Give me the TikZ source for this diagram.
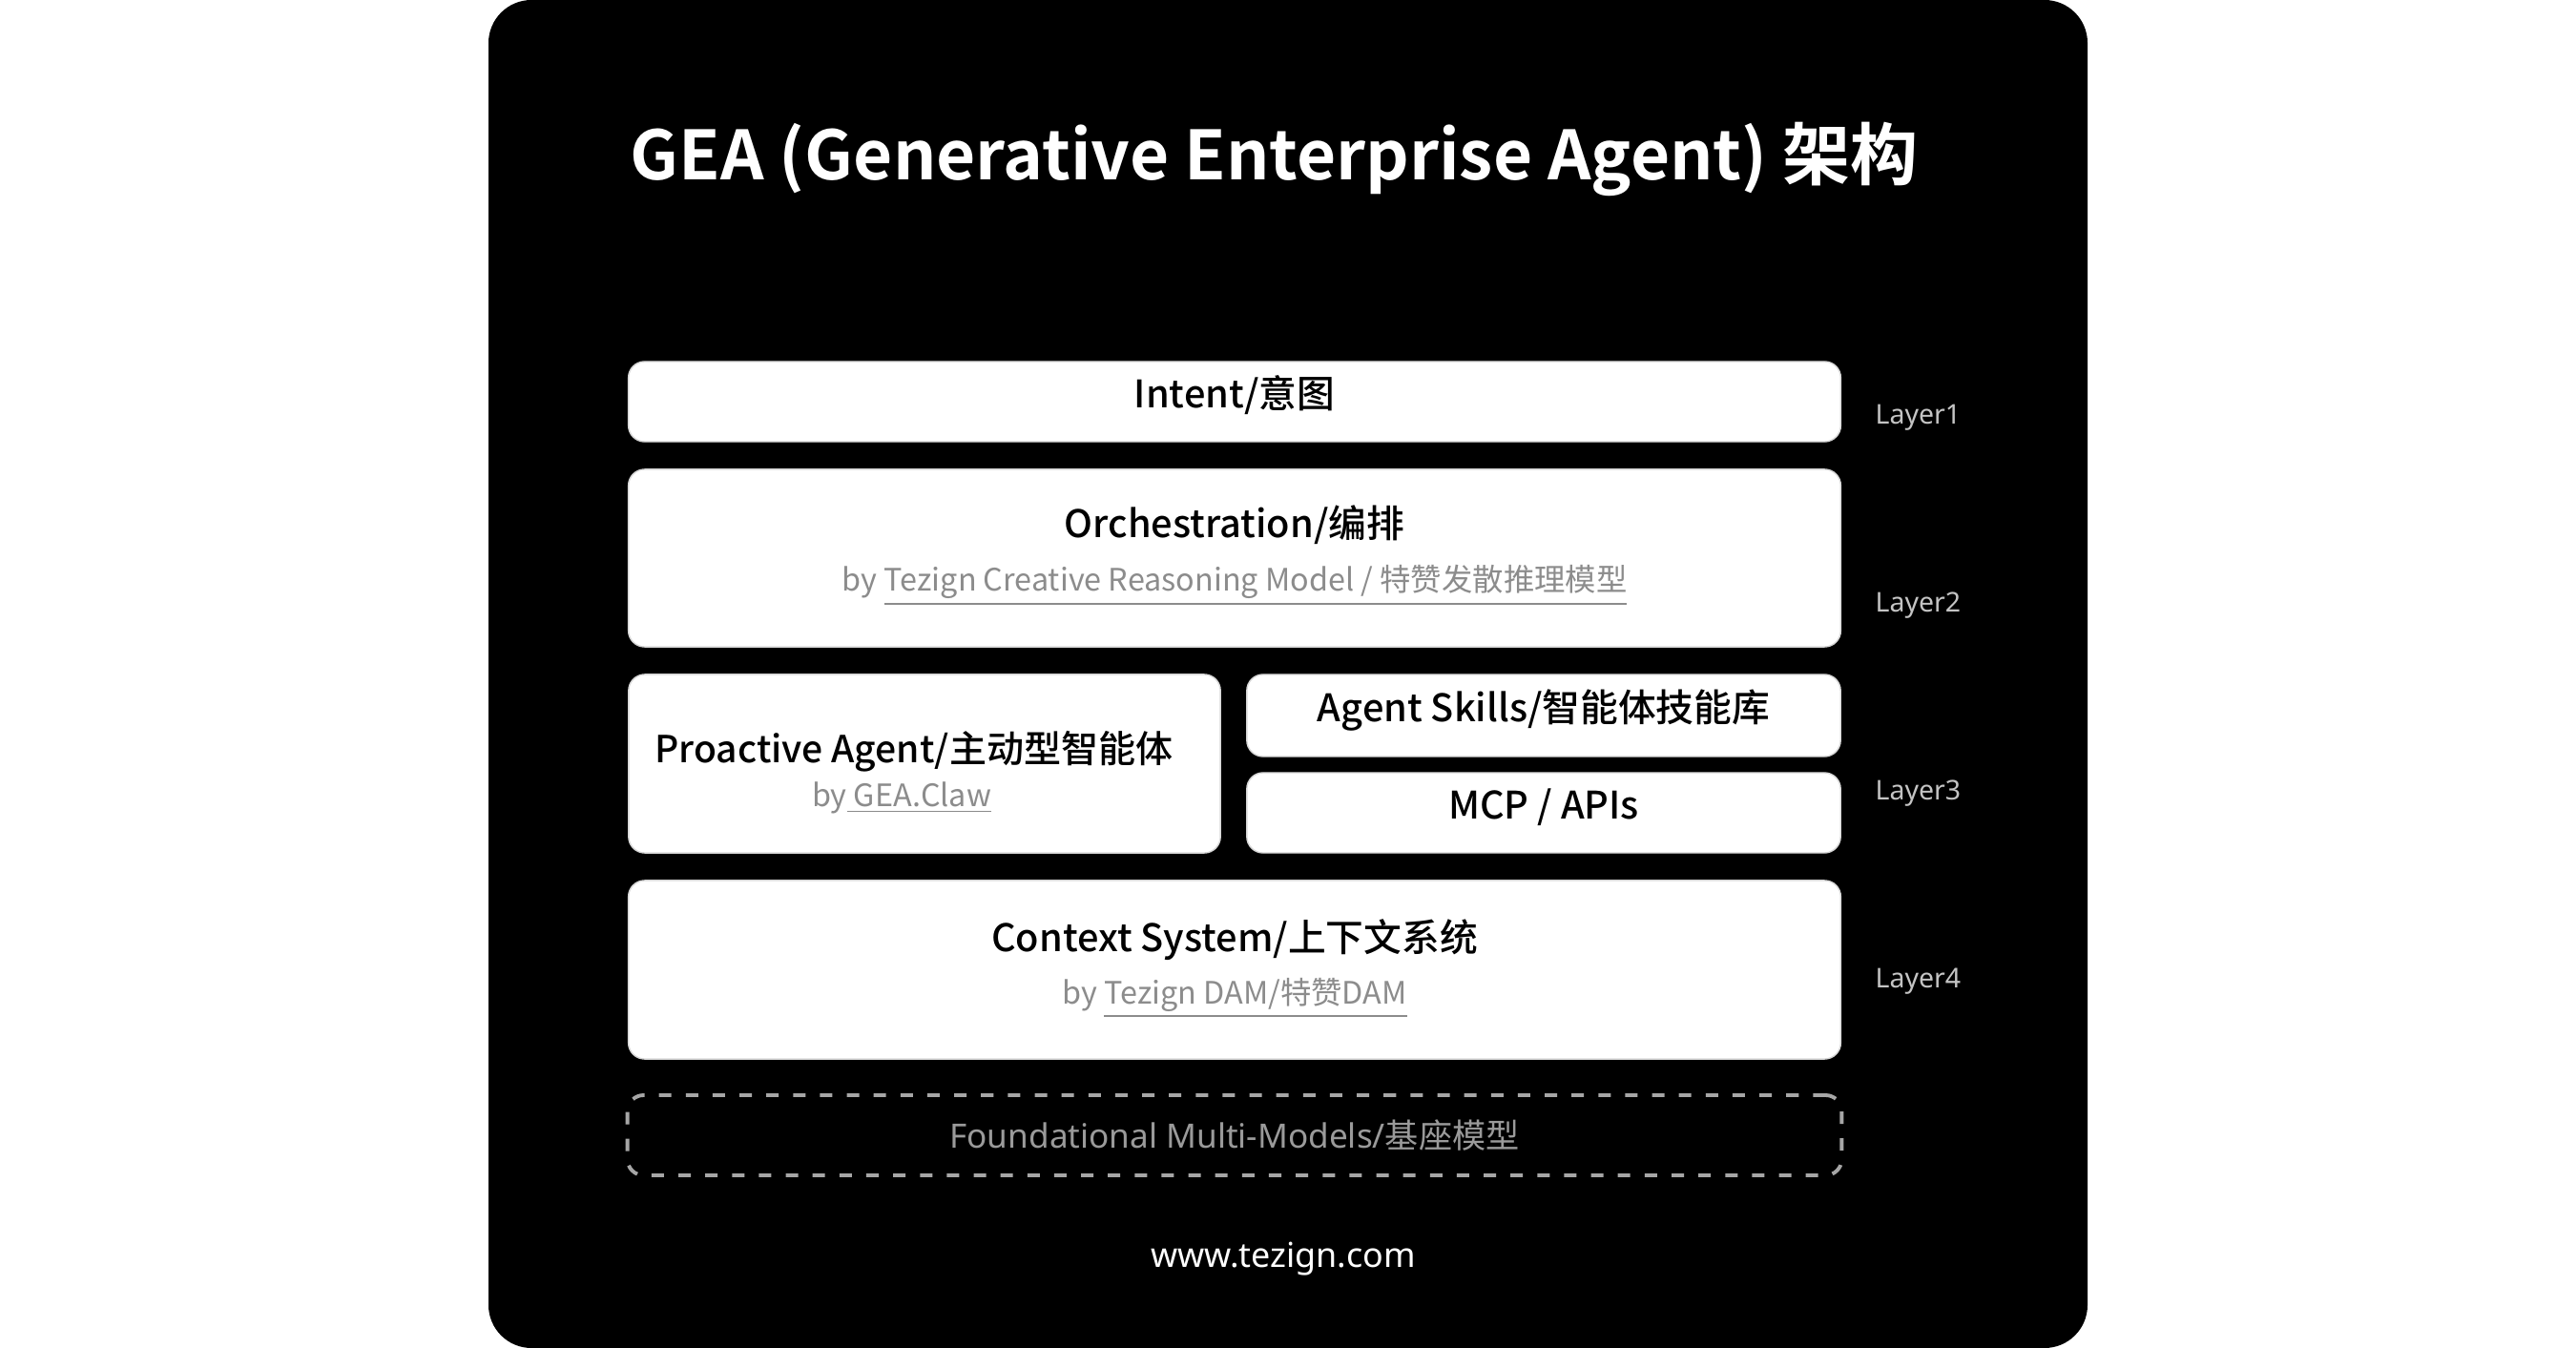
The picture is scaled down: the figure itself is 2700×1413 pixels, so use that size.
\documentclass[tikz,border=0pt]{standalone}
\usepackage{fontspec}
\setmainfont{Noto Sans CJK SC}
\newfontfamily\cjkbold{Noto Sans CJK SC Bold}
\newfontfamily\cjkmed{Noto Sans CJK SC Medium}
\newfontfamily\cjkreg{Noto Sans CJK SC}
\newfontfamily\lat{Noto Sans}
\definecolor{boxline}{HTML}{D6D6D6}
\definecolor{subgray}{HTML}{8C8C8C}
\definecolor{layergray}{HTML}{C4C4C4}
\definecolor{dashgray}{HTML}{A6A6A6}
\definecolor{foundgray}{HTML}{9A9A9A}
\begin{document}
\begin{tikzpicture}[x=0.01cm,y=-0.01cm,
  layerbox/.style={draw=boxline,line width=0.4pt,fill=white,rounded corners=0.17cm,inner sep=0pt,outer sep=0pt},
  dashbox/.style={draw=dashgray,line width=1.1pt,dash pattern=on 3.7pt off 4.3pt,rounded corners=0.17cm,inner sep=0pt,outer sep=0pt},
  maintxt/.style={anchor=base,inner sep=0pt,font=\cjkmed\fontsize{11.3pt}{14pt}\selectfont,text=black},
  subtxt/.style={anchor=base,inner sep=0pt,font=\cjkreg\fontsize{9.2pt}{12pt}\selectfont,text=subgray},
  layertxt/.style={anchor=base west,inner sep=0pt,font=\lat\fontsize{8.1pt}{10pt}\selectfont,text=layergray}]
\useasboundingbox (0,0) rectangle (2700,1413);
\fill[white] (0,0) rectangle (2700,1413);
\fill[black,rounded corners=0.45cm] (512,0) rectangle (2188,1413);
% title
\node[anchor=base west,inner sep=0pt,text=white,font=\cjkbold\fontsize{20.2pt}{25pt}\selectfont] (title) at (660,189) {GEA (Generative Enterprise Agent) 架构};
% boxes
\node[layerbox,minimum width=12.70cm,minimum height=0.84cm] (intent) at (1294,421) {};
\node[layerbox,minimum width=12.70cm,minimum height=1.86cm] (orch) at (1294,585) {};
\node[layerbox,minimum width=6.20cm,minimum height=1.87cm] (proactive) at (969,800.5) {};
\node[layerbox,minimum width=6.22cm,minimum height=0.86cm] (skills) at (1618,750) {};
\node[layerbox,minimum width=6.22cm,minimum height=0.84cm] (mcp) at (1618,852) {};
\node[layerbox,minimum width=12.70cm,minimum height=1.87cm] (context) at (1294,1016.5) {};
\node[dashbox,minimum width=12.72cm,minimum height=0.84cm] (found) at (1294,1190) {};
% texts
\node[maintxt] (tintent) at (1294,428) {Intent/意图};
\node[maintxt] (torch) at (1294,564) {Orchestration/编排};
\node[subtxt] (sorch) at (1294,620) {by \underline{Tezign Creative Reasoning Model / 特赞发散推理模型}};
\node[maintxt,font=\cjkmed\fontsize{11.1pt}{14pt}\selectfont] (tpro) at (958,799) {Proactive Agent/主动型智能体};
\node[subtxt] (spro) at (945,845) {by\underline{\ GEA.Claw}};
\node[maintxt] (tskills) at (1618,757) {Agent Skills/智能体技能库};
\node[maintxt] (tmcp) at (1618,858) {MCP / APIs};
\node[maintxt] (tcontext) at (1294,997) {Context System/上下文系统};
\node[subtxt] (scontext) at (1294,1052) {by \underline{Tezign DAM/特赞DAM}};
\node[anchor=base,inner sep=0pt,text=foundgray,font=\fontsize{10pt}{12pt}\selectfont] (tfound) at (1294,1203) {{\lat Foundational Multi-Models/}{\cjkreg 基座模型}};
\node[anchor=base,inner sep=0pt,text=white,font=\lat\fontsize{10.2pt}{12pt}\selectfont] (web) at (1345,1328) {www.tezign.com};
% layer labels
\node[layertxt] (l1) at (1965,445) {Layer1};
\node[layertxt] (l2) at (1965,642) {Layer2};
\node[layertxt] (l3) at (1965,838) {Layer3};
\node[layertxt] (l4) at (1965,1035) {Layer4};
\end{tikzpicture}
\end{document}
